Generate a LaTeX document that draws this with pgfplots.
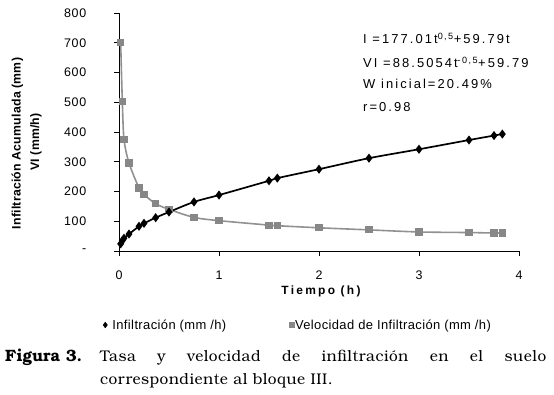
\documentclass[border=0pt]{standalone}
\usepackage{pgfplots}
\pgfplotsset{compat=1.18}
\usepackage{fontspec}
\setmainfont{Liberation Sans}
\newfontfamily\capfont{TeX Gyre Bonum}
\definecolor{vgray}{RGB}{135,135,135}
\definecolor{vline}{RGB}{145,145,145}
\begin{document}
\begin{tikzpicture}
\useasboundingbox (0,0) rectangle (554bp,395bp);
\begin{axis}[
  at={(119bp,144bp)}, anchor=south west,
  scale only axis, width=400bp, height=238bp,
  xmin=0, xmax=4, ymin=0, ymax=800,
  axis lines=left,
  axis line style={-, line width=0.9pt, black},
  tick align=outside, major tick length=5bp,
  tick style={black, line width=0.9pt},
  xtick={0,1,2,3,4},
  ytick={0,100,200,300,400,500,600,700,800},
  yticklabels={-,100,200,300,400,500,600,700,800},
  /pgf/number format/assume math mode=true,
  ticklabel style={font=\fontsize{12.5}{14}\selectfont\addfontfeature{LetterSpace=6}},
  yticklabel style={anchor=east, inner sep=0pt, xshift=-27.5bp},
  xticklabel style={anchor=north, inner sep=0pt, yshift=-15bp},
  clip=false,
  legend style={at={(axis description cs:0.445,-0.311)}, anchor=center,
    draw=none, fill=none, legend columns=2,
    font=\fontsize{13}{14}\selectfont\addfontfeature{LetterSpace=3},
    nodes={inner sep=0pt},
    /tikz/every odd column/.append style={column sep=5bp},
    /tikz/every even column/.append style={column sep=63bp}},
  legend cell align=left,
  legend image code/.code={\draw[#1] plot coordinates {(0bp,0bp)};},
]
\addlegendimage{only marks, mark=diamond*, mark size=2.9pt, black}
\addlegendentry{Infiltración (mm /h)}
\addlegendimage{only marks, mark=square*, mark size=2.4pt, vgray}
\addlegendentry{\hspace{-4bp}Velocidad de Infiltración (mm /h)}

\addplot[forget plot, smooth, tension=0.5, vline, line width=1.6pt,
  mark=square*, mark size=2.8pt, mark options={vgray, fill=vgray, draw=vgray}]
coordinates {
(0.0167,700) (0.0333,502) (0.05,376) (0.1,296) (0.2,212) (0.25,190)
(0.3667,159) (0.5,140) (0.75,113) (1.0,102) (1.5,87) (1.5833,85)
(2.0,78) (2.5,71) (3.0,64) (3.5,62) (3.75,60.5) (3.8333,60.5)
};
\addplot[forget plot, smooth, tension=0.5, black, line width=1.7pt,
  mark=diamond*, mark size=3.2pt, mark options={black, fill=black}]
coordinates {
(0.0167,24) (0.0333,35) (0.05,43) (0.1,57) (0.2,83) (0.25,93)
(0.3667,112) (0.5,131) (0.75,165) (1.0,188) (1.5,236) (1.5833,245)
(2.0,275) (2.5,312) (3.0,342) (3.5,373) (3.75,388) (3.8333,393)
};
\end{axis}
% y label
\node[rotate=90, font=\bfseries\fontsize{12.3}{13}\selectfont\addfontfeature{LetterSpace=2}] at (17.5bp,251.5bp) {Infiltración Acumulada (mm)};
\node[rotate=90, font=\bfseries\fontsize{12.3}{13}\selectfont\addfontfeature{LetterSpace=2}] at (36bp,253bp) {VI (mm/h)};
% x label
\node[anchor=base, inner sep=0pt, font=\bfseries\fontsize{12}{13}\selectfont\addfontfeature{LetterSpace=19}] at (321bp,100bp) {Tiempo (h)};
% annotation
\begin{scope}[every node/.style={anchor=base west, inner sep=0pt, font=\fontsize{13}{15}\selectfont\addfontfeature{LetterSpace=16}}]
\node at (363bp,351bp) {I =177.01t\textsuperscript{0,5}+59.79t};
\node at (363bp,327bp) {VI =88.5054t\textsuperscript{-0,5}+59.79};
\node at (363bp,306bp) {W inicial=20.49\%};
\node at (363bp,283bp) {r=0.98};
\end{scope}
% caption
\node[anchor=base west, inner sep=0pt, font=\capfont\bfseries\fontsize{16.5}{19}\selectfont] at (5bp,34bp) {Figura 3.};
\node[anchor=base west, inner sep=0pt, font=\capfont\fontsize{15.5}{18}\selectfont\addfontfeature{LetterSpace=3}] at (100bp,34bp) {\makebox[446bp][s]{Tasa y velocidad de infiltración en el suelo}};
\node[anchor=base west, inner sep=0pt, font=\capfont\fontsize{15.5}{18}\selectfont\addfontfeature{LetterSpace=3}] at (100bp,11bp) {correspondiente al bloque III.};
\end{tikzpicture}
\end{document}
